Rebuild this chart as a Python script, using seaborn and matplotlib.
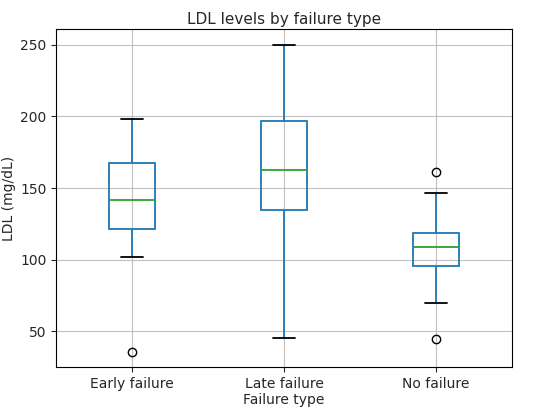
import pandas as pd
import matplotlib
matplotlib.use("Agg")
from matplotlib import pyplot as plt
import seaborn as sns

early_failure = [36, 102.3, 121.2, 130, 141.4, 155, 167.7, 180, 198]
late_failure = [45.3, 120, 134.9, 150, 162.3, 180, 196.5, 220, 250]
no_failure = [44.7, 70.2, 95.6, 100, 108.8, 112, 118.6, 146.7, 161]
groups = ['Early failure', 'Late failure', 'No failure']

df = pd.DataFrame({
    'Failure type': [groups[0]] * len(early_failure) + [groups[1]] * len(late_failure) + [groups[2]] * len(no_failure),
    'LDL': early_failure + late_failure + no_failure,
})

sns.set_style("white")
plt.rcParams['font.family'] = ['DejaVu Sans']

fig = plt.figure(figsize=(5.5, 4.09), dpi=100)
ax = fig.add_axes([0.102, 0.103, 0.829, 0.825])

sns.boxplot(data=df, x='Failure type', y='LDL', order=groups, width=0.3, ax=ax,
            linewidth=1.3,
            boxprops=dict(facecolor='none', edgecolor='#1f77b4'),
            whiskerprops=dict(color='#1f77b4'),
            capprops=dict(color='black'),
            medianprops=dict(color='#2ca02c'),
            flierprops=dict(marker='o', markerfacecolor='none', markeredgecolor='black', markersize=6))

ax.set_axisbelow(True)
ax.grid(True, axis='both', color='#c0c0c0', linewidth=0.8)
ax.xaxis.grid(True, color='#c0c0c0', linewidth=0.8)

for s in ax.spines.values():
    s.set_color('black')
    s.set_linewidth(0.8)
ax.tick_params(axis='both', which='both', left=True, bottom=True, length=3.5, labelsize=10)
ax.set_xlim(-0.5, 2.5)
ax.set_title('LDL levels by failure type', fontsize=11, pad=4)
ax.set_xlabel('Failure type', fontsize=10, labelpad=2)
ax.set_ylabel('LDL (mg/dL)', fontsize=10, labelpad=3)
ax.set_yticks([50, 100, 150, 200, 250])

fig.savefig('out.png', dpi=100)
